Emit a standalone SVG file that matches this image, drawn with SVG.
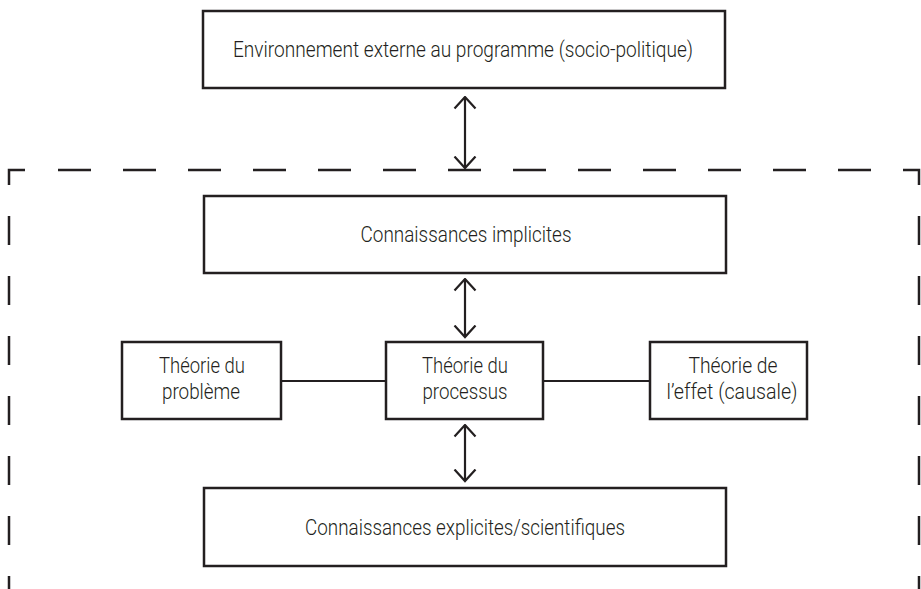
<svg xmlns="http://www.w3.org/2000/svg" width="921" height="589" viewBox="0 0 921 589">
<style>
.box{fill:#fff;stroke:#231f20;stroke-width:2.5}
.lbl{font-family:Roboto,"Liberation Sans",Arial,sans-serif;font-weight:300;font-size:22.5px;fill:#231f20;text-anchor:middle}
.ln{stroke:#231f20;stroke-width:2.2;fill:none}
.dash{stroke:#231f20;stroke-width:2.5;fill:none}
</style>
<defs>
<marker id="ah" viewBox="0 0 14 24" refX="12.5" refY="12" markerWidth="14" markerHeight="24" markerUnits="userSpaceOnUse" orient="auto-start-reverse">
<path d="M1,1.5 L12.5,12 L1,22.5" fill="none" stroke="#231f20" stroke-width="2.2"/>
</marker>
</defs>
<rect width="921" height="589" fill="#fff"/>
<g id="boundary">
<path class="dash" d="M58,170 H905" stroke-dasharray="33 32"/>
<path class="dash" d="M9,185 V170 H25"/>
<path class="dash" d="M905,170 H919 V185"/>
<path class="dash" d="M9,216 V589" stroke-dasharray="29 31"/>
<path class="dash" d="M919,216 V589" stroke-dasharray="29 31"/>
</g>
<g id="connectors">
<path class="ln" d="M465,168 V97" marker-start="url(#ah)" marker-end="url(#ah)"/>
<path class="ln" d="M465,337 V279" marker-start="url(#ah)" marker-end="url(#ah)"/>
<path class="ln" d="M465,481 V425" marker-start="url(#ah)" marker-end="url(#ah)"/>
<path class="ln" d="M281,381 H386"/>
<path class="ln" d="M543,381 H650"/>
</g>
<g id="env">
<rect class="box" x="203" y="11" width="522" height="77"/>
<text class="lbl" x="463" y="57" textLength="460" lengthAdjust="spacingAndGlyphs">Environnement externe au programme (socio-politique)</text>
</g>
<g id="implicites">
<rect class="box" x="204" y="196" width="522" height="77"/>
<text class="lbl" x="466" y="242" textLength="211" lengthAdjust="spacingAndGlyphs">Connaissances implicites</text>
</g>
<g id="probleme">
<rect class="box" x="122" y="342" width="159" height="77"/>
<text class="lbl" x="202" y="373" textLength="86" lengthAdjust="spacingAndGlyphs">Théorie du</text>
<text class="lbl" x="201" y="399" textLength="78" lengthAdjust="spacingAndGlyphs">problème</text>
</g>
<g id="processus">
<rect class="box" x="386" y="342" width="157" height="77"/>
<text class="lbl" x="465" y="373" textLength="86" lengthAdjust="spacingAndGlyphs">Théorie du</text>
<text class="lbl" x="465" y="399" textLength="85" lengthAdjust="spacingAndGlyphs">processus</text>
</g>
<g id="effet">
<rect class="box" x="650" y="342" width="157" height="77"/>
<text class="lbl" x="733" y="373" textLength="89" lengthAdjust="spacingAndGlyphs">Théorie de</text>
<text class="lbl" x="732" y="399" textLength="131" lengthAdjust="spacingAndGlyphs">l’effet (causale)</text>
</g>
<g id="explicites">
<rect class="box" x="204" y="488" width="522" height="78"/>
<text class="lbl" x="465" y="535" textLength="320" lengthAdjust="spacingAndGlyphs">Connaissances explicites/scientifiques</text>
</g>
</svg>
